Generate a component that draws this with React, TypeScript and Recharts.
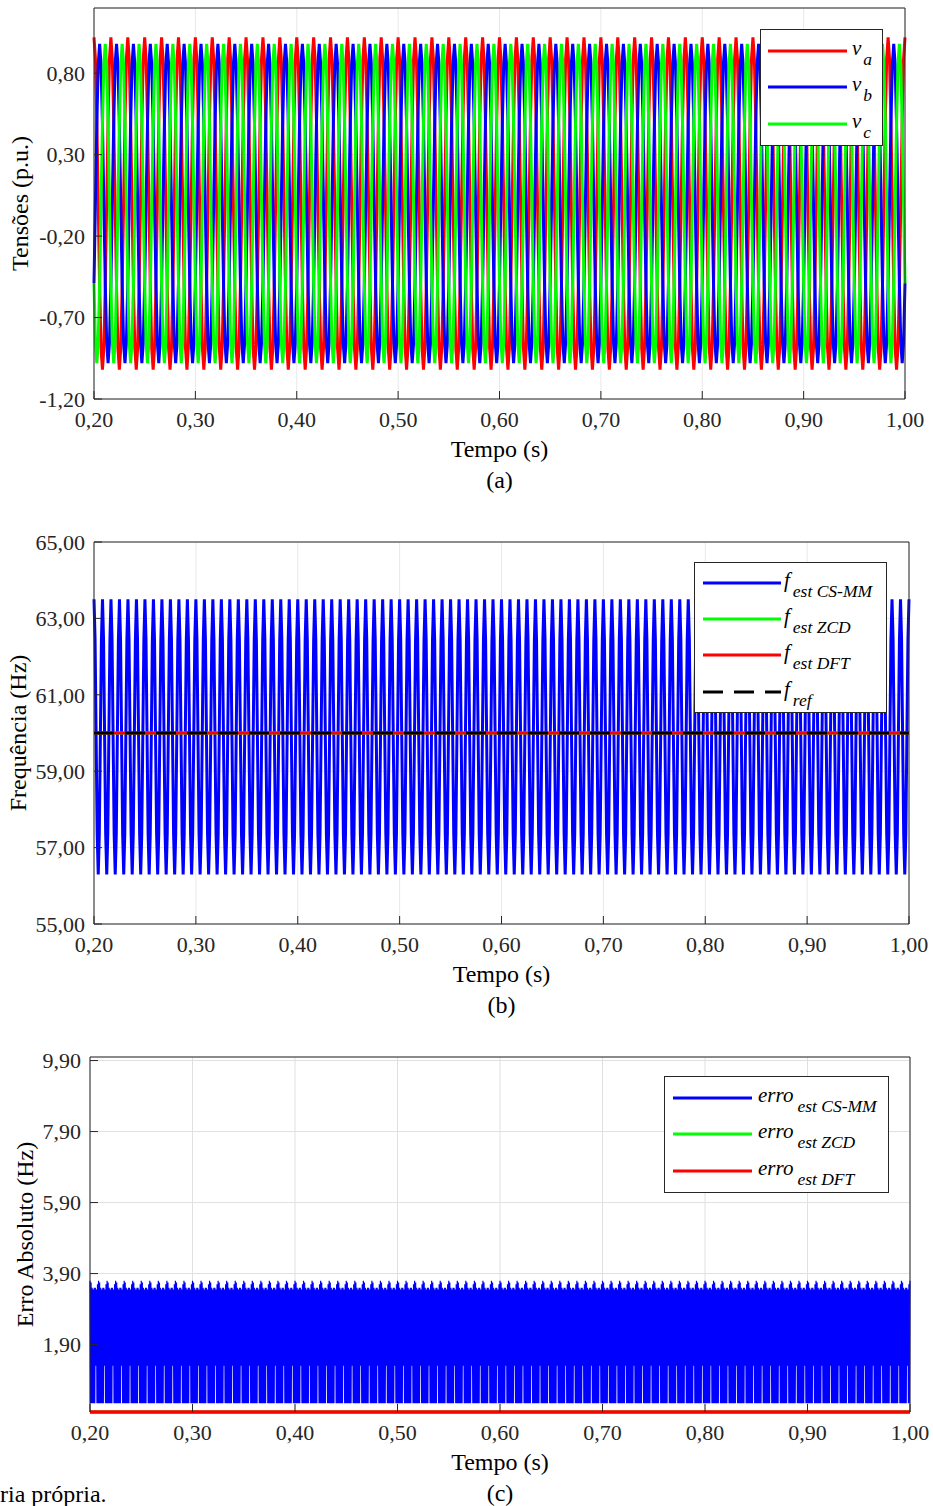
import { CartesianGrid, Label, Legend, Line, LineChart, XAxis, YAxis } from 'recharts'

const timeStart = 0.2
const timeEnd = 1.0
const timeTicks = [0.2, 0.3, 0.4, 0.5, 0.6, 0.7, 0.8, 0.9, 1.0]

// (a) three-phase voltages, 48 cycles of 60 Hz between 0.2 s and 1.0 s
const voltageTicks = [-1.2, -0.7, -0.2, 0.3, 0.8]
const voltageCycles = 48
const voltageCycle = [1, 0.87, 0.5, 0, -0.5, -0.87, -1, -0.87, -0.5, 0, 0.5, 0.87]
const phaseKeys = ['va', 'vb', 'vc']
const phasePeaks = [1.02, 0.98, 0.98]
const phaseLag = [0, 4, -4] // in samples of voltageCycle

// (b) frequency estimates
const freqTicks = [55, 57, 59, 61, 63, 65]
const freqCycles = 96
const csmmCycle = [63.5, 62.45, 59.9, 57.35, 56.3, 57.35, 59.9, 62.45]
const zcdLevel = 60
const dftLevel = 60
const refLevel = 60

// (c) absolute error
const errTicks = [1.9, 3.9, 5.9, 7.9, 9.9]
const errCycles = 96
const errHigh = [3.7, 3.65, 3.5, 3.45, 3.5, 3.5, 3.45, 3.6]
const errLow = [0.25, 0.25, 0.25, 0.25, 0.25, 1.3, 0.25, 0.25]
const zcdError = 0
const dftError = 0

const RED = '#ff0000'
const BLUE = '#0000ff'
const GREEN = '#00ff00'
const BLACK = '#000000'
const ink = '#262626'
const font = '"Liberation Serif", "Times New Roman", serif'

const voltageLegend = [
  { color: RED, main: 'v', sub: 'a' },
  { color: BLUE, main: 'v', sub: 'b' },
  { color: GREEN, main: 'v', sub: 'c' },
]
const freqLegend = [
  { color: BLUE, main: 'f', sub: 'est CS-MM' },
  { color: GREEN, main: 'f', sub: 'est ZCD' },
  { color: RED, main: 'f', sub: 'est DFT' },
  { color: BLACK, main: 'f', sub: 'ref', dash: '20 11' },
]
const errLegend = [
  { color: BLUE, main: 'erro', sub: 'est CS-MM' },
  { color: GREEN, main: 'erro', sub: 'est ZCD' },
  { color: RED, main: 'erro', sub: 'est DFT' },
]

const timeAt = (i: number, n: number) => +(timeStart + (i * (timeEnd - timeStart)) / n).toFixed(6)

const vN = voltageCycles * voltageCycle.length
const voltageData = Array.from({ length: vN + 1 }, (_, i) => {
  const k = voltageCycle.length
  const row: Record<string, number> = { t: timeAt(i, vN) }
  phaseKeys.forEach((key, j) => {
    row[key] = phasePeaks[j] * voltageCycle[(((i - phaseLag[j]) % k) + k) % k]
  })
  return row
})

const fN = freqCycles * csmmCycle.length
const freqData = Array.from({ length: fN + 1 }, (_, i) => ({
  t: timeAt(i, fN),
  csmm: csmmCycle[i % csmmCycle.length],
  zcd: zcdLevel,
  dft: dftLevel,
  ref: refLevel,
}))

const eN = errCycles * errHigh.length * 2
const errorData = Array.from({ length: eN + 1 }, (_, i) => {
  const j = Math.floor(i / 2) % errHigh.length
  return { t: timeAt(i, eN), csmm: i % 2 === 0 ? errHigh[j] : errLow[j], zcd: zcdError, dft: dftError }
})

const fmt = (v: number) => v.toFixed(2).replace('.', ',')
const tickStyle = { fill: ink, fontSize: 22, fontFamily: font }

type Entry = { color: string; main: string; sub: string; dash?: string }
type Box = { w: number; h: number; x1: number; x2: number; tx: number; rows: number[]; subDx: number }

function legendBox(entries: Entry[], b: Box) {
  return () => (
    <svg width={b.w} height={b.h} style={{ display: 'block' }}>
      <rect x={0.5} y={0.5} width={b.w - 1} height={b.h - 1} fill="#fff" stroke={ink} strokeWidth={1} />
      {entries.map((e, i) => (
        <g key={i}>
          <line x1={b.x1} x2={b.x2} y1={b.rows[i]} y2={b.rows[i]} stroke={e.color} strokeWidth={3} strokeDasharray={e.dash} />
          <text x={b.tx} y={b.rows[i] + 4} fontFamily={font} fontStyle="italic" fontSize={21} fill={BLACK}>
            {e.main}
            <tspan dx={b.subDx} dy={10} fontSize={17.5}>{e.sub}</tspan>
          </text>
        </g>
      ))}
    </svg>
  )
}

function xTitles(tag: string) {
  return [
    <Label
      key="title"
      content={(p: any) => (
        <text x={p.viewBox.x + p.viewBox.width / 2} y={p.viewBox.y + 58} textAnchor="middle" fontFamily={font} fontSize={24} fill={BLACK}>
          Tempo (s)
        </text>
      )}
    />,
    <Label
      key="tag"
      content={(p: any) => (
        <text x={p.viewBox.x + p.viewBox.width / 2} y={p.viewBox.y + 89} textAnchor="middle" fontFamily={font} fontSize={24} fill={BLACK}>
          {tag}
        </text>
      )}
    />,
  ]
}

function yTitle(text: string, x: number) {
  return (
    <Label
      content={(p: any) => {
        const cy = p.viewBox.y + p.viewBox.height / 2
        return (
          <text x={x} y={cy} dy="0.35em" transform={`rotate(-90 ${x} ${cy})`} textAnchor="middle" fontFamily={font} fontSize={24} fill={BLACK}>
            {text}
          </text>
        )
      }}
    />
  )
}

function frame(yDomain: number[], yTicks: number[]) {
  return [
    <XAxis key="xt" xAxisId="top" orientation="top" type="number" domain={[timeStart, timeEnd]} ticks={timeTicks} interval={0} height={1} tick={false} tickSize={-8} stroke={ink} />,
    <YAxis key="yr" yAxisId="right" orientation="right" type="number" domain={yDomain} ticks={yTicks} interval={0} width={1} tick={false} tickSize={-8} stroke={ink} />,
  ]
}

export default function App() {
  return (
    <div style={{ position: 'absolute', left: 0, top: 0, width: 933, height: 1506, background: '#fff' }}>
      <div style={{ position: 'absolute', left: 0, top: 0 }}>
        <LineChart width={933} height={500} data={voltageData} margin={{ top: 7, right: 27, left: 0, bottom: 0 }}>
          <CartesianGrid stroke="#e8e8e8" />
          <XAxis dataKey="t" type="number" domain={[timeStart, timeEnd]} ticks={timeTicks} interval={0} tickFormatter={fmt} height={101} tickSize={-8} tickMargin={20} stroke={ink} tick={tickStyle}>
            {xTitles('(a)')}
          </XAxis>
          <YAxis type="number" domain={[-1.2, 1.2]} ticks={voltageTicks} interval={0} tickFormatter={fmt} width={94} tickSize={-8} tickMargin={17} stroke={ink} tick={tickStyle}>
            {yTitle('Tensões (p.u.)', 20)}
          </YAxis>
          {frame([-1.2, 1.2], voltageTicks)}
          {phaseKeys.map((key, j) => (
            <Line key={key} dataKey={key} stroke={voltageLegend[j].color} strokeWidth={3} dot={false} isAnimationActive={false} />
          ))}
          <Legend layout="vertical" align="center" verticalAlign="middle" wrapperStyle={{ left: 760, top: 29, width: 123, height: 117 }}
            content={legendBox(voltageLegend, { w: 123, h: 117, x1: 8, x2: 87, tx: 92, rows: [22, 58, 95], subDx: 2 })} />
        </LineChart>
      </div>

      <div style={{ position: 'absolute', left: 0, top: 520 }}>
        <LineChart width={933} height={500} data={freqData} margin={{ top: 21, right: 23, left: 0, bottom: 0 }}>
          <CartesianGrid stroke="#e8e8e8" />
          <XAxis dataKey="t" type="number" domain={[timeStart, timeEnd]} ticks={timeTicks} interval={0} tickFormatter={fmt} height={96} tickSize={-8} tickMargin={20} stroke={ink} tick={tickStyle}>
            {xTitles('(b)')}
          </XAxis>
          <YAxis type="number" domain={[55, 65]} ticks={freqTicks} interval={0} tickFormatter={fmt} width={94} tickSize={-8} tickMargin={17} stroke={ink} tick={tickStyle}>
            {yTitle('Frequência (Hz)', 18)}
          </YAxis>
          {frame([55, 65], freqTicks)}
          <Line dataKey="csmm" stroke={BLUE} strokeWidth={3} dot={false} isAnimationActive={false} />
          <Line dataKey="zcd" stroke={GREEN} strokeWidth={3} dot={false} isAnimationActive={false} />
          <Line dataKey="dft" stroke={RED} strokeWidth={3} dot={false} isAnimationActive={false} />
          <Line dataKey="ref" stroke={BLACK} strokeWidth={3} strokeDasharray="20 11" dot={false} isAnimationActive={false} />
          <Legend layout="vertical" align="center" verticalAlign="middle" wrapperStyle={{ left: 694, top: 42, width: 193, height: 151 }}
            content={legendBox(freqLegend, { w: 193, h: 151, x1: 9, x2: 87, tx: 90, rows: [21, 57, 93, 130], subDx: 3 })} />
        </LineChart>
      </div>

      <div style={{ position: 'absolute', left: 0, top: 1030 }}>
        <LineChart width={933} height={476} data={errorData} margin={{ top: 26, right: 22, left: 0, bottom: 0 }}>
          <CartesianGrid stroke="#e0e0e0" />
          <XAxis dataKey="t" type="number" domain={[timeStart, timeEnd]} ticks={timeTicks} interval={0} tickFormatter={fmt} height={94} tickSize={-8} tickMargin={20} axisLine={false} stroke={ink} tick={tickStyle}>
            {xTitles('(c)')}
          </XAxis>
          <YAxis type="number" domain={[0, 10]} ticks={errTicks} interval={0} tickFormatter={fmt} width={90} tickSize={-8} tickMargin={17} stroke={ink} tick={tickStyle}>
            {yTitle('Erro Absoluto (Hz)', 25)}
          </YAxis>
          {frame([0, 10], errTicks)}
          <Line dataKey="csmm" stroke={BLUE} strokeWidth={1.2} dot={false} isAnimationActive={false} />
          <Line dataKey="zcd" stroke={GREEN} strokeWidth={3} dot={false} isAnimationActive={false} />
          <Line dataKey="dft" stroke={RED} strokeWidth={3.5} dot={false} isAnimationActive={false} />
          <Legend layout="vertical" align="center" verticalAlign="middle" wrapperStyle={{ left: 664, top: 46, width: 225, height: 117 }}
            content={legendBox(errLegend, { w: 225, h: 117, x1: 9, x2: 88, tx: 94, rows: [22, 58, 95], subDx: 4 })} />
        </LineChart>
      </div>

      <div style={{ position: 'absolute', left: 0, top: 1482, fontFamily: font, fontSize: 24, lineHeight: '24px', color: BLACK, whiteSpace: 'nowrap' }}>
        ria própria.
      </div>
    </div>
  )
}
